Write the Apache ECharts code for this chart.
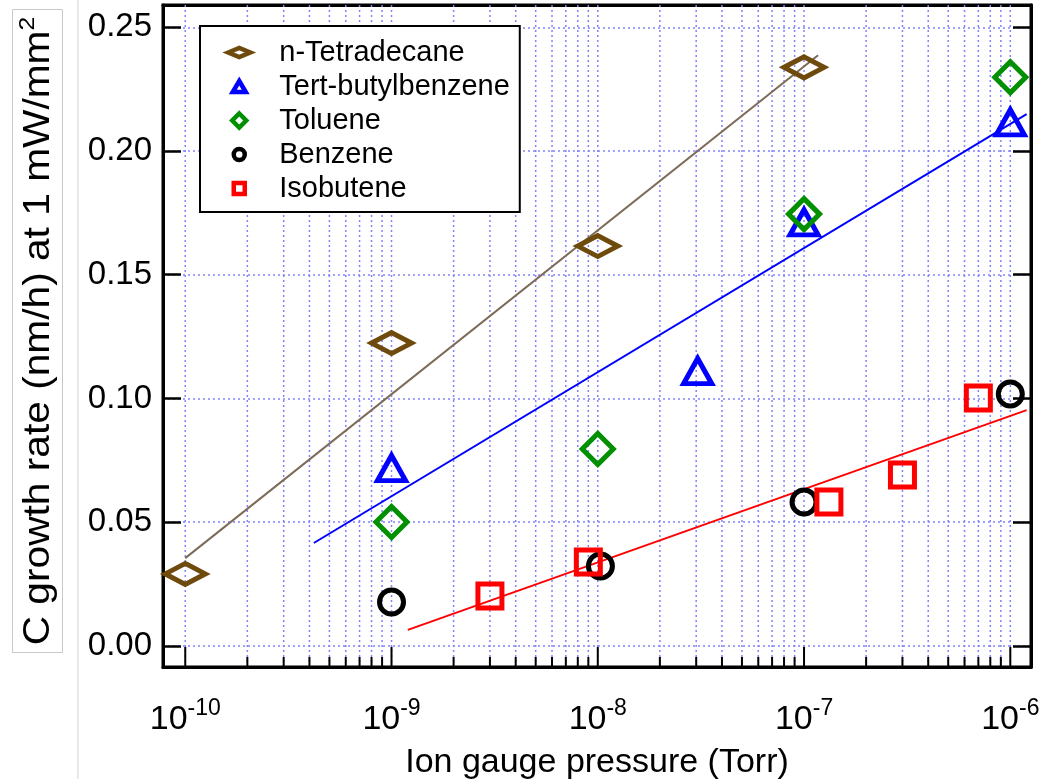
<!DOCTYPE html>
<html><head><meta charset="utf-8">
<script src="https://cdn.jsdelivr.net/npm/echarts@6/dist/echarts.min.js"></script>
<style>html,body{margin:0;padding:0;background:#fff}#c{width:1055px;height:779px}</style>
</head><body><div id="c"></div>
<script>
// ---- data ----
const seriesNames = ['n-Tetradecane', 'Tert-butylbenzene', 'Toluene', 'Benzene', 'Isobutene'];
const tetradecaneX = [1e-10, 1e-9, 1e-8, 1e-7];
const tetradecaneY = [0.0291, 0.1224, 0.1616, 0.2338];
const tertButylbenzeneX = [1e-9, 3.05e-8, 1e-7, 1e-6];
const tertButylbenzeneY = [0.0719, 0.1111, 0.1712, 0.2116];
const tolueneX = [1e-9, 1e-8, 1e-7, 1e-6];
const tolueneY = [0.0501, 0.0796, 0.1745, 0.2298];
const benzeneX = [1e-9, 1.03e-8, 1e-7, 1e-6];
const benzeneY = [0.0178, 0.0323, 0.0582, 0.1018];
const isobuteneX = [3.0e-9, 9.0e-9, 1.32e-7, 3.0e-7, 7.0e-7];
const isobuteneY = [0.0202, 0.0339, 0.0582, 0.0691, 0.1002];
// fitted lines (end points)
const tetradecaneFitX = [1e-10, 1.17e-7];
const tetradecaneFitY = [0.0355, 0.2387];
const tertButylbenzeneFitX = [4.2e-10, 1.2e-6];
const tertButylbenzeneFitY = [0.0416, 0.2149];
const isobuteneFitX = [1.2e-9, 1.2e-6];
const isobuteneFitY = [0.0065, 0.0953];
// axes
const xMin = 7.8e-11, xMax = 1.26e-6;
const yMin = -0.0085, yMax = 0.259;
const xDecades = [1e-10, 1e-9, 1e-8, 1e-7, 1e-6];
const minorDecades = [1e-10, 1e-9, 1e-8, 1e-7];
const minorMultipliers = [2, 3, 4, 5, 6, 7, 8, 9];
const xTitle = 'Ion gauge pressure (Torr)';
const yTitle = 'C growth rate (nm/h) at 1 mW/mm';
const yTitleSup = '2';

// ---- chart ----
const FONT = 'Liberation Sans';
const gridColor = '#8282ff';
const zip = (xs, ys) => xs.map((x, i) => [x, ys[i]]);
// x grid lines + bottom ticks: [x, 0, isMajor]
const xGridData = xDecades.map(d => [d, 0, 1]);
minorDecades.forEach(d => minorMultipliers.forEach(m => xGridData.push([m * d, 0, 0])));

function scatter(name, xs, ys, color, symbol, size, bw) {
  return {
    name, type: 'scatter', data: zip(xs, ys), symbol, symbolSize: size, z: 6,
    itemStyle: { color: 'rgba(255,255,255,0)', borderColor: color, borderWidth: bw, opacity: 1 },
    emphasis: { disabled: true }
  };
}
function fit(name, xs, ys, color) {
  return {
    name, type: 'line', data: zip(xs, ys), symbol: 'none', showSymbol: false, z: 5,
    lineStyle: { color, width: 2 }, emphasis: { disabled: true }, silent: true
  };
}

const chart = echarts.init(document.getElementById('c'), null, { renderer: 'canvas' });
chart.setOption({
  animation: false,
  backgroundColor: '#fff',
  textStyle: { fontFamily: FONT },
  grid: {
    left: 163, right: 24, top: 5, bottom: 112, outerBoundsMode: 'none', containLabel: false,
    show: true, borderColor: '#000', borderWidth: 3, backgroundColor: 'transparent'
  },
  graphic: [
    { type: 'line', shape: { x1: 78, y1: 0, x2: 78, y2: 779 }, style: { stroke: '#e2e2e2', lineWidth: 1.5 }, silent: true },
    { type: 'rect', shape: { x: 12.5, y: 9.5, width: 50, height: 643 }, style: { fill: 'none', stroke: '#c8c8c8', lineWidth: 1 }, silent: true },
    {
      type: 'text', x: 37, y: 331, rotation: Math.PI / 2, scaleX: 1.13, silent: true,
      style: {
        text: '{a|' + yTitle + '}{s|' + yTitleSup + '}',
        align: 'center', verticalAlign: 'middle',
        rich: {
          a: { fontFamily: FONT, fontSize: 36, fill: '#000', lineHeight: 40, verticalAlign: 'bottom' },
          s: { fontFamily: FONT, fontSize: 22, fill: '#000', lineHeight: 20, verticalAlign: 'top' }
        }
      }
    }
  ],
  legend: {
    left: 200, top: 26, orient: 'vertical',
    backgroundColor: '#fff', borderColor: '#000', borderWidth: 2, borderRadius: 0,
    padding: [12, 10, 9, 23],
    itemWidth: 28, itemHeight: 16, itemGap: 5,
    textStyle: { fontFamily: FONT, fontSize: 29, color: '#000', lineHeight: 29, padding: [0, 0, 0, 21] },
    itemStyle: { borderWidth: 4.5 },
    selectedMode: false,
    data: [
      { name: seriesNames[0], icon: 'path://M0,0M28,16M3,8L14,3.5L25,8L14,12.5Z' },
      { name: seriesNames[1], icon: 'path://M0,0M28,16M14,2.5L20.5,13.5L7.5,13.5Z' },
      { name: seriesNames[2], icon: 'path://M0,0M28,16M14,1L21,8L14,15L7,8Z' },
      { name: seriesNames[3], icon: 'path://M0,0M28,16M19.5,8A5.5,5.5 0 1 1 8.5,8A5.5,5.5 0 1 1 19.5,8Z' },
      { name: seriesNames[4], icon: 'path://M0,0M28,16M8.5,2.5L19.5,2.5L19.5,13.5L8.5,13.5Z' }
    ]
  },
  xAxis: [{
    type: 'log', logBase: 10, min: xMin, max: xMax,
    axisLine: { show: true, onZero: false, lineStyle: { color: '#000', width: 3 } },
    axisTick: { show: false },
    minorTick: { show: false }, minorSplitLine: { show: false },
    axisLabel: {
      margin: 30, color: '#000',
      formatter: v => {
        const l = Math.log10(v), e = Math.round(l);
        if (Math.abs(l - e) > 0.01) return '';
        return '{b|10}{s|' + e + '}';
      },
      rich: {
        b: { fontFamily: FONT, fontSize: 34, color: '#000', lineHeight: 40, verticalAlign: 'bottom' },
        s: { fontFamily: FONT, fontSize: 23, color: '#000', lineHeight: 22, verticalAlign: 'top' }
      }
    },
    splitLine: { show: false },
    name: xTitle, nameLocation: 'middle', nameGap: 79,
    nameTextStyle: { fontFamily: FONT, fontSize: 34, color: '#000' }
  }, {
    type: 'log', logBase: 10, min: xMin, max: xMax, position: 'top',
    axisLine: { show: true, onZero: false, lineStyle: { color: '#000', width: 3 } },
    axisTick: { show: false }, minorTick: { show: false }, minorSplitLine: { show: false },
    axisLabel: { show: false }, splitLine: { show: false }
  }],
  yAxis: [{
    type: 'value', min: yMin, max: yMax,
    axisLine: { show: true, onZero: false, lineStyle: { color: '#000', width: 3 } },
    axisTick: { show: true, inside: true, length: 18, lineStyle: { color: '#000', width: 2.5 } },
    axisLabel: {
      margin: 11, color: '#000', fontFamily: FONT, fontSize: 33,
      formatter: v => (Math.abs(v * 20 - Math.round(v * 20)) > 1e-6 ? '' : v.toFixed(2))
    },
    splitLine: { show: true, lineStyle: { color: gridColor, width: 1.5, type: [2, 3] } }
  }, {
    type: 'value', min: yMin, max: yMax, position: 'right',
    axisLine: { show: true, onZero: false, lineStyle: { color: '#000', width: 3 } },
    axisTick: { show: true, inside: true, length: 18, lineStyle: { color: '#000', width: 2.5 } },
    axisLabel: { show: false }, splitLine: { show: false }
  }],
  series: [
    {
      name: 'x-grid', type: 'custom', silent: true, z: 1, data: xGridData, encode: { x: 0, y: 1 },
      renderItem: (params, api) => {
        const x = api.value(0);
        const major = api.value(2) === 1;
        const b = api.coord([x, yMin]);
        const t = api.coord([x, yMax]);
        return {
          type: 'group', children: [
            { type: 'line', shape: { x1: b[0], y1: b[1], x2: t[0], y2: t[1] }, style: { stroke: gridColor, lineWidth: 1.5, lineDash: [2, 3] } },
            { type: 'line', shape: { x1: b[0], y1: b[1], x2: b[0], y2: b[1] - (major ? 20 : 10) }, style: { stroke: '#000', lineWidth: 2 } }
          ]
        };
      }
    },
    fit('n-Tetradecane fit', tetradecaneFitX, tetradecaneFitY, '#7d6b58'),
    fit('Tert-butylbenzene fit', tertButylbenzeneFitX, tertButylbenzeneFitY, '#0000ff'),
    fit('Isobutene fit', isobuteneFitX, isobuteneFitY, '#ff0000'),
    scatter(seriesNames[0], tetradecaneX, tetradecaneY, '#6e4a0c', 'diamond', [40, 21], 5.5),
    scatter(seriesNames[1], tertButylbenzeneX, tertButylbenzeneY, '#0000ff', 'triangle', [28, 25], 5),
    scatter(seriesNames[2], tolueneX, tolueneY, '#009000', 'diamond', [31, 31], 5),
    scatter(seriesNames[3], benzeneX, benzeneY, '#000000', 'circle', 24, 5),
    scatter(seriesNames[4], isobuteneX, isobuteneY, '#ff0000', 'rect', 24, 5)
  ]
});
</script>
</body></html>
